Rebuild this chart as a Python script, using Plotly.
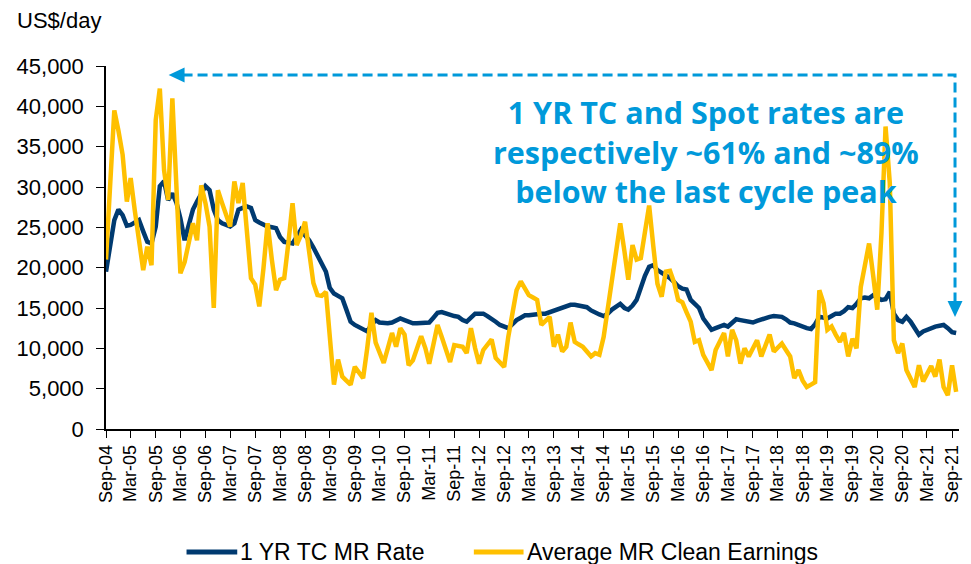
import plotly.graph_objects as go
import pandas as pd

# ---------------- data (monthly, Sep-04 .. Oct-21) ----------------
months = pd.date_range("2004-09-01", periods=206, freq="MS")

tc_rate = [
    19500, 23000, 25900, 27200, 26500, 25200, 25300, 25600, 25900, 24500,
    23200, 23000, 25100, 30100, 30700, 28400, 29200, 28000, 26100, 23400,
    25500, 27200, 28200, 29200, 30100, 29600, 27200, 25900, 25500, 25300,
    25100, 25500, 27200, 27400, 27600, 27400, 25900, 25600, 25300, 25100,
    25000, 24900, 23800, 23200, 23100, 23000, 23800, 24700, 24000, 23400,
    22500, 21600, 20500, 19500, 17500, 16800, 16500, 16200, 14800, 13300,
    12900, 12600, 12300, 12100, 12900, 13500, 13200, 13100, 13100, 13200,
    13400, 13700, 13500, 13300, 13100, 13100, 13100, 13100, 13200, 13800,
    14400, 14500, 14300, 14100, 14000, 13900, 13500, 13300, 13800, 14300,
    14300, 14300, 14000, 13700, 13300, 12900, 12700, 12500, 13000, 13500,
    13800, 14100, 14100, 14200, 14300, 14300, 14300, 14500, 14700, 14900,
    15100, 15200, 15400, 15400, 15300, 15300, 15100, 14700, 14400, 14200,
    14000, 14300, 14800, 15200, 15500, 15000, 14800, 15300, 16000, 17500,
    19000, 20100, 20300, 19700, 19400, 19100, 18700, 18200, 17700, 17400,
    17300, 16000, 15500, 15000, 13700, 13000, 12300, 12500, 12700, 12900,
    12700, 13200, 13600, 13500, 13400, 13300, 13200, 13400, 13600, 13800,
    13900, 14000, 14000, 13900, 13600, 13200, 13100, 12900, 12600, 12500,
    12400, 13000, 13900, 13800, 13700, 14000, 14300, 14300, 14600, 15100,
    15000, 15500, 16200, 16300, 16200, 16600, 16300, 16000, 16100, 17000,
    14300, 13500, 13300, 13900, 13300, 12500, 11700, 12100, 12300, 12500,
    12700, 12800, 12900, 12500, 12000, 11900,
]

spot_earnings = [
    21000, 30000, 39500, 37000, 34000, 28200, 31100, 27000, 23000, 19700,
    22600, 20300, 38300, 42200, 32100, 28400, 41000, 30000, 19300, 20700,
    23000, 25500, 23400, 30200, 28000, 25100, 15000, 29600, 28000, 26300,
    25100, 30700, 28000, 30500, 24500, 18700, 17900, 15200, 20000, 25500,
    21000, 17200, 18500, 18700, 23000, 28000, 22800, 24000, 25700, 22000,
    18100, 16600, 16500, 17000, 12000, 5500, 8600, 6500, 6000, 5500,
    7700, 7000, 6300, 10000, 14400, 10700, 9500, 8200, 10000, 11900,
    10200, 12500, 11700, 7900, 8500, 9800, 11500, 10000, 8100, 10500,
    12900, 11400, 10000, 8300, 10400, 10300, 10200, 9400, 12500, 10000,
    8100, 9800, 10500, 11100, 8800, 8200, 7700, 11400, 14000, 17200,
    18300, 17500, 16600, 16300, 16000, 12900, 13400, 13900, 10200, 11700,
    9600, 10200, 13200, 10800, 10500, 10200, 9600, 9000, 9400, 9200,
    11400, 15000, 18900, 22000, 25500, 22000, 18500, 22800, 21000, 21200,
    24500, 27700, 22600, 18000, 16400, 19500, 19600, 18100, 16000, 15700,
    14500, 13300, 10800, 11000, 9200, 8200, 7300, 9800, 10800, 11900,
    9000, 12300, 11000, 8100, 10000, 9000, 10000, 11000, 9000, 10300,
    11700, 9600, 10000, 10600, 9800, 9000, 6300, 7300, 6000, 5200,
    5500, 5800, 17200, 15600, 12300, 12700, 11700, 10800, 11900, 9000,
    11200, 10000, 17600, 20000, 23000, 18900, 14800, 24300, 37500, 30500,
    11000, 9400, 10600, 7300, 6100, 5200, 7900, 5900, 6800, 7800,
    6500, 8600, 5200, 4200, 7900, 4600,
]

series_names = ["1 YR TC MR Rate", "Average MR Clean Earnings"]

tick_dates = pd.date_range("2004-09-01", "2021-09-01", freq="6MS")
tick_labels = [
    "Sep-04", "Mar-05", "Sep-05", "Mar-06", "Sep-06", "Mar-07", "Sep-07",
    "Mar-08", "Sep-08", "Mar-09", "Sep-09", "Mar-10", "Sep-10", "Mar-11",
    "Sep-11", "Mar-12", "Sep-12", "Mar-13", "Sep-13", "Mar-14", "Sep-14",
    "Mar-15", "Sep-15", "Mar-16", "Sep-16", "Mar-17", "Sep-17", "Mar-18",
    "Sep-18", "Mar-19", "Sep-19", "Mar-20", "Sep-20", "Mar-21", "Sep-21",
]
y_ticks = [0, 5000, 10000, 15000, 20000, 25000, 30000, 35000, 40000, 45000]

# ---------------- layout geometry ----------------
# the page body adds an 8 px margin, so the figure starts at (8, 8)
OFF = 8
W, H = 963, 556
L, R, T, B = 96, 9, 58, 135
PW, PH = W - L - R, H - T - B


def px(x):
    """page pixel x -> paper x"""
    return (x - OFF - L) / PW


def py(y):
    """page pixel y -> paper y"""
    return (H - B - (y - OFF)) / PH


NAVY = "#003A70"
GOLD = "#FFC000"
BLUE = "#0099DA"
FONT = "Liberation Sans, Arial, sans-serif"
LW = 4.5

fig = go.Figure()
fig.add_trace(go.Scatter(x=months, y=tc_rate, mode="lines", name=series_names[0],
                         line=dict(color=NAVY, width=LW), showlegend=False))
fig.add_trace(go.Scatter(x=months, y=spot_earnings, mode="lines", name=series_names[1],
                         line=dict(color=GOLD, width=LW), showlegend=False))

# dashed bracket with arrowheads
yl = py(75)
xr = px(958)
fig.add_shape(type="path", xref="paper", yref="paper",
              path=f"M {px(181)},{yl} L {xr},{yl} L {xr},{py(303)}",
              line=dict(color=BLUE, width=3, dash="10px,5px"))
fig.add_shape(type="path", xref="paper", yref="paper",
              path=f"M {px(167)},{yl} L {px(183)},{py(67.5)} L {px(183)},{py(82.5)} Z",
              fillcolor=BLUE, line=dict(color=BLUE, width=0))
fig.add_shape(type="path", xref="paper", yref="paper",
              path=f"M {xr},{py(317)} L {px(950.5)},{py(301)} L {px(965.5)},{py(301)} Z",
              fillcolor=BLUE, line=dict(color=BLUE, width=0))

fig.add_annotation(
    text="<b>1 YR TC and Spot rates are<br>respectively ~61% and ~89%<br>below the last cycle peak</b>",
    xref="paper", yref="paper", x=px(708), y=py(151), xanchor="center", yanchor="middle",
    showarrow=False, align="center",
    font=dict(family="Open Sans, sans-serif", size=30.5, color=BLUE))

fig.add_annotation(text="US$/day", xref="paper", yref="paper", x=px(12), y=py(21),
                   xanchor="left", yanchor="middle", showarrow=False,
                   font=dict(family=FONT, size=22, color="black"))

# legend drawn as line samples + text, placed like the reference
LEG_Y = 552
legend_items = [(series_names[0], NAVY, 185, 236), (series_names[1], GOLD, 474, 524)]
for name, color, x0, x1 in legend_items:
    fig.add_shape(type="line", xref="paper", yref="paper",
                  x0=px(x0), x1=px(x1), y0=py(LEG_Y), y1=py(LEG_Y),
                  line=dict(color=color, width=5))
    fig.add_annotation(text=name, xref="paper", yref="paper", x=px(x1 + 1), y=py(LEG_Y),
                       xanchor="left", yanchor="middle", showarrow=False,
                       font=dict(family=FONT, size=23, color="black"))

fig.update_layout(
    width=W, height=H,
    margin=dict(l=L, r=R, t=T, b=B, pad=0),
    paper_bgcolor="white", plot_bgcolor="white",
    font=dict(family=FONT, color="black"),
    showlegend=False,
)

fig.update_xaxes(
    range=["2004-09-01", "2021-10-22"],
    tickmode="array", tickvals=tick_dates, ticktext=tick_labels,
    tickangle=-90, tickfont=dict(family=FONT, size=18, color="black"),
    ticks="outside", ticklen=7, tickcolor="black", tickwidth=1,
    showline=True, linecolor="black", linewidth=1.5,
    showgrid=False, zeroline=False,
)
fig.update_yaxes(
    range=[0, 45000], tickmode="array", tickvals=y_ticks,
    ticktext=[f"{v:,}" for v in y_ticks],
    tickfont=dict(family=FONT, size=22, color="black"),
    ticks="outside", ticklen=8, tickcolor="black", tickwidth=1,
    ticklabelstandoff=8,
    showline=True, linecolor="black", linewidth=1.5,
    showgrid=False, zeroline=False,
)

fig.write_html("out.html")
